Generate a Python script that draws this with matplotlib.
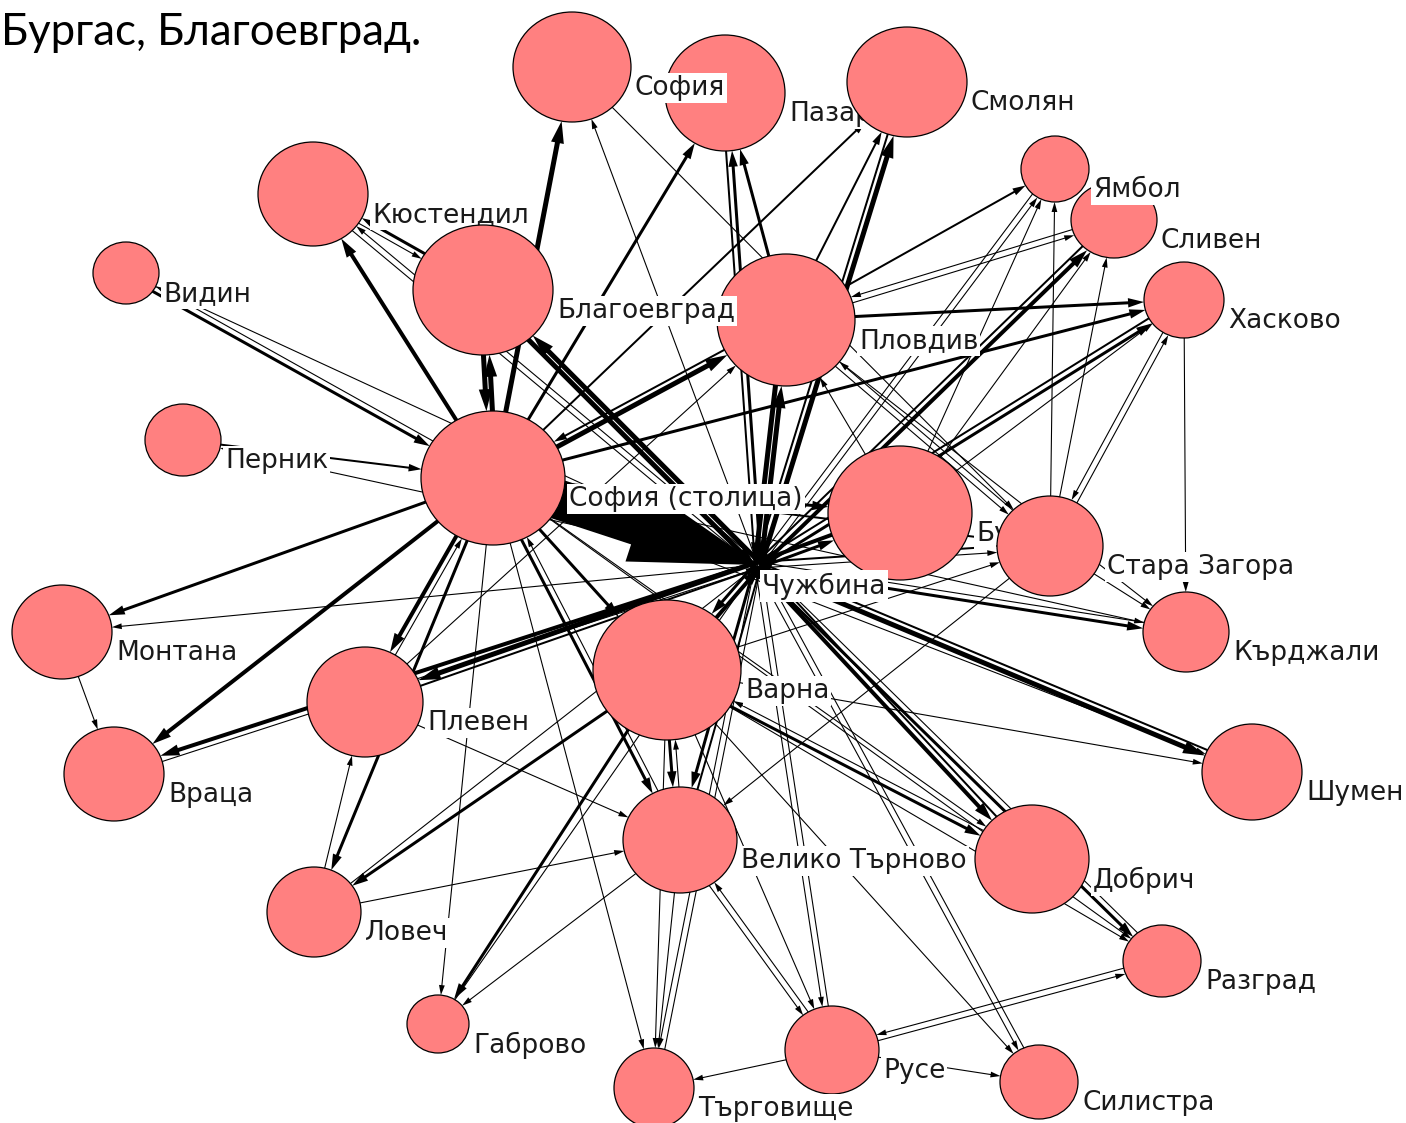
import matplotlib
matplotlib.use("Agg")
import matplotlib.pyplot as plt
from matplotlib.patches import Ellipse, FancyArrowPatch
import numpy as np

W, H = 1406, 1123
PT = 0.72  # points per pixel at dpi 100

title = "Бургас, Благоевград."

# nodes, listed in drawing order (later ones sit on top)
node_names = ["Пазарджик", "София", "Смолян", "Сливен", "Ямбол", "Хасково", "Кюстендил",
              "Видин", "Пловдив", "Благоевград", "Перник", "София (столица)", "Бургас",
              "Чужбина", "Стара Загора", "Кърджали", "Монтана", "Враца", "Плевен", "Варна",
              "Шумен", "Велико Търново", "Добрич", "Ловеч", "Габрово", "Русе", "Търговище",
              "Разград", "Силистра"]
node_x = [725, 572, 907, 1114, 1055, 1184, 313, 126, 786, 483, 183, 493, 900, 758, 1050,
          1186, 62, 114, 365, 667, 1252, 680, 1032, 314, 438, 832, 654, 1162, 1039]
node_y = [93, 67, 82, 220, 169, 300, 194, 273, 320, 290, 440, 478, 513, 565, 546, 632,
          632, 774, 702, 670, 772, 840, 859, 912, 1024, 1050, 1088, 961, 1082]
node_rx = [60, 59, 60, 43, 34, 40, 55, 33, 69, 70, 38, 72, 72, 0, 53, 43, 50, 50, 58, 74,
           50, 57, 57, 47, 31, 47, 40, 39, 39]
node_ry = [58, 55, 55, 38, 33, 38, 52, 31, 66, 65, 36, 67, 67, 0, 50, 40, 47, 47, 55, 70,
           48, 53, 54, 45, 29, 44, 40, 36, 37]

# edges: (from, to, line width in px)
edges_capital = [
    ("София (столица)", "Чужбина", 40), ("София (столица)", "Кюстендил", 4),
    ("София (столица)", "София", 5), ("София (столица)", "Благоевград", 5),
    ("София (столица)", "Пазарджик", 3), ("София (столица)", "Смолян", 2),
    ("София (столица)", "Пловдив", 5), ("София (столица)", "Хасково", 3),
    ("София (столица)", "Бургас", 3), ("София (столица)", "Стара Загора", 2),
    ("София (столица)", "Кърджали", 1), ("София (столица)", "Монтана", 3),
    ("София (столица)", "Враца", 4), ("София (столица)", "Плевен", 4),
    ("София (столица)", "Ловеч", 3), ("София (столица)", "Габрово", 1),
    ("София (столица)", "Търговище", 1), ("София (столица)", "Велико Търново", 3),
    ("София (столица)", "Варна", 3), ("София (столица)", "Добрич", 1),
    ("София (столица)", "Шумен", 1), ("София (столица)", "Разград", 1),
    ("София (столица)", "Видин", 1),
]
edges_from_abroad = [
    ("Чужбина", "Благоевград", 5), ("Чужбина", "Кюстендил", 1), ("Чужбина", "София", 1),
    ("Чужбина", "Пазарджик", 3), ("Чужбина", "Смолян", 5), ("Чужбина", "Пловдив", 5),
    ("Чужбина", "Ямбол", 1), ("Чужбина", "Сливен", 4), ("Чужбина", "Хасково", 3),
    ("Чужбина", "Бургас", 3), ("Чужбина", "Стара Загора", 1), ("Чужбина", "Кърджали", 3),
    ("Чужбина", "Шумен", 5), ("Чужбина", "Добрич", 4), ("Чужбина", "Разград", 3),
    ("Чужбина", "Силистра", 1), ("Чужбина", "Русе", 1), ("Чужбина", "Търговище", 1),
    ("Чужбина", "Велико Търново", 3), ("Чужбина", "Варна", 3), ("Чужбина", "Плевен", 5),
    ("Чужбина", "Враца", 4), ("Чужбина", "Монтана", 1), ("Чужбина", "Перник", 1),
]
edges_to_abroad = [
    ("Благоевград", "Чужбина", 5), ("Пловдив", "Чужбина", 5), ("Бургас", "Чужбина", 4),
    ("Варна", "Чужбина", 4), ("Плевен", "Чужбина", 2), ("Стара Загора", "Чужбина", 2),
    ("Хасково", "Чужбина", 2), ("Сливен", "Чужбина", 2), ("Смолян", "Чужбина", 2),
    ("Пазарджик", "Чужбина", 2), ("Шумен", "Чужбина", 2), ("Добрич", "Чужбина", 2),
    ("Кърджали", "Чужбина", 1), ("Велико Търново", "Чужбина", 2), ("Русе", "Чужбина", 1),
    ("Ловеч", "Чужбина", 1), ("Габрово", "Чужбина", 1), ("Враца", "Чужбина", 1),
    ("Видин", "Чужбина", 1), ("Кюстендил", "Чужбина", 1), ("Ямбол", "Чужбина", 1),
    ("Силистра", "Чужбина", 1), ("Разград", "Чужбина", 1), ("Търговище", "Чужбина", 1),
]
edges_regional = [
    ("Благоевград", "София (столица)", 5), ("Благоевград", "Кюстендил", 3),
    ("Кюстендил", "Благоевград", 1), ("Видин", "София (столица)", 3),
    ("Перник", "София (столица)", 2), ("Плевен", "София (столица)", 1),
    ("Пловдив", "София (столица)", 2), ("Велико Търново", "София (столица)", 1),
    ("Пловдив", "Пазарджик", 3), ("Пловдив", "Смолян", 2), ("Пловдив", "Ямбол", 2),
    ("Пловдив", "Сливен", 1), ("Сливен", "Пловдив", 1), ("Пловдив", "Хасково", 3),
    ("Пловдив", "Стара Загора", 1), ("Стара Загора", "Пловдив", 1),
    ("Пловдив", "Кърджали", 1), ("София", "Стара Загора", 1),
    ("Бургас", "Ямбол", 1), ("Бургас", "Сливен", 1), ("Бургас", "Хасково", 1),
    ("Бургас", "Пловдив", 1), ("Стара Загора", "Ямбол", 1), ("Стара Загора", "Сливен", 1),
    ("Хасково", "Стара Загора", 1), ("Стара Загора", "Хасково", 1),
    ("Стара Загора", "Кърджали", 1), ("Хасково", "Кърджали", 1),
    ("Стара Загора", "Велико Търново", 1), ("Варна", "Стара Загора", 1),
    ("Монтана", "Враца", 1), ("Ловеч", "Плевен", 1), ("Плевен", "Пловдив", 1),
    ("Плевен", "Велико Търново", 1), ("Ловеч", "Велико Търново", 1),
    ("Варна", "Ловеч", 3), ("Варна", "Габрово", 3), ("Велико Търново", "Габрово", 1),
    ("Варна", "Велико Търново", 3), ("Велико Търново", "Варна", 1),
    ("Велико Търново", "Търговище", 1), ("Варна", "Търговище", 1),
    ("Велико Търново", "Русе", 1), ("Русе", "Велико Търново", 1), ("Варна", "Русе", 1),
    ("Русе", "Търговище", 1), ("Русе", "Разград", 1), ("Разград", "Русе", 1),
    ("Русе", "Силистра", 1), ("Варна", "Силистра", 1), ("Варна", "Добрич", 3),
    ("Добрич", "Варна", 1), ("Варна", "Шумен", 1), ("Варна", "Разград", 1),
]

edges = edges_capital + edges_from_abroad + edges_to_abroad + edges_regional
idx = {n: i for i, n in enumerate(node_names)}
pairs = {(a, b) for a, b, _ in edges}


def ellipse_radius(i, ux, uy):
    rx, ry = node_rx[i], node_ry[i]
    if rx == 0:
        return 0.0
    return rx * ry / np.hypot(ry * ux, rx * uy)


fig = plt.figure(figsize=(W / 100, H / 100), dpi=100)
ax = fig.add_axes([0, 0, 1, 1])
ax.set_xlim(0, W)
ax.set_ylim(H, 0)
ax.axis("off")

for a, b, w in edges:
    i, j = idx[a], idx[b]
    x1, y1, x2, y2 = node_x[i], node_y[i], node_x[j], node_y[j]
    L = np.hypot(x2 - x1, y2 - y1)
    ux, uy = (x2 - x1) / L, (y2 - y1) / L
    off = 3.0 if (b, a) in pairs else 0.0
    nx, ny = -uy * off, ux * off
    rb = ellipse_radius(j, ux, uy)
    start = (x1 + nx, y1 + ny)
    end = (x2 - ux * rb + nx, y2 - uy * rb + ny)
    tw = max(w, 1.1)
    hl = 7 + 3.0 * w
    hw = 4 + 1.8 * w
    style = f"simple,head_length={hl * PT:.2f},head_width={hw * PT:.2f},tail_width={tw * PT:.2f}"
    ax.add_patch(FancyArrowPatch(start, end, arrowstyle=style, mutation_scale=1,
                                 fc="black", ec="none", lw=0, shrinkA=0, shrinkB=0,
                                 zorder=1))

for k, name in enumerate(node_names):
    cx, cy, rx, ry = node_x[k], node_y[k], node_rx[k], node_ry[k]
    if rx > 0:
        ax.add_patch(Ellipse((cx, cy), 2 * rx, 2 * ry, fc="#ff8080", ec="black",
                             lw=0.9, zorder=2 + 2 * k))
    ax.text(cx + rx + 4, cy + 21, name, ha="left", va="center", fontsize=19,
            family="DejaVu Sans", color="#1a1a1a", zorder=3 + 2 * k,
            bbox=dict(boxstyle="square,pad=0.08", fc="white", ec="none"))

ax.text(1, 45, title, fontsize=31.5, family="Lato", ha="left", va="baseline",
        color="black", zorder=100)

fig.savefig("out.png", dpi=100)
